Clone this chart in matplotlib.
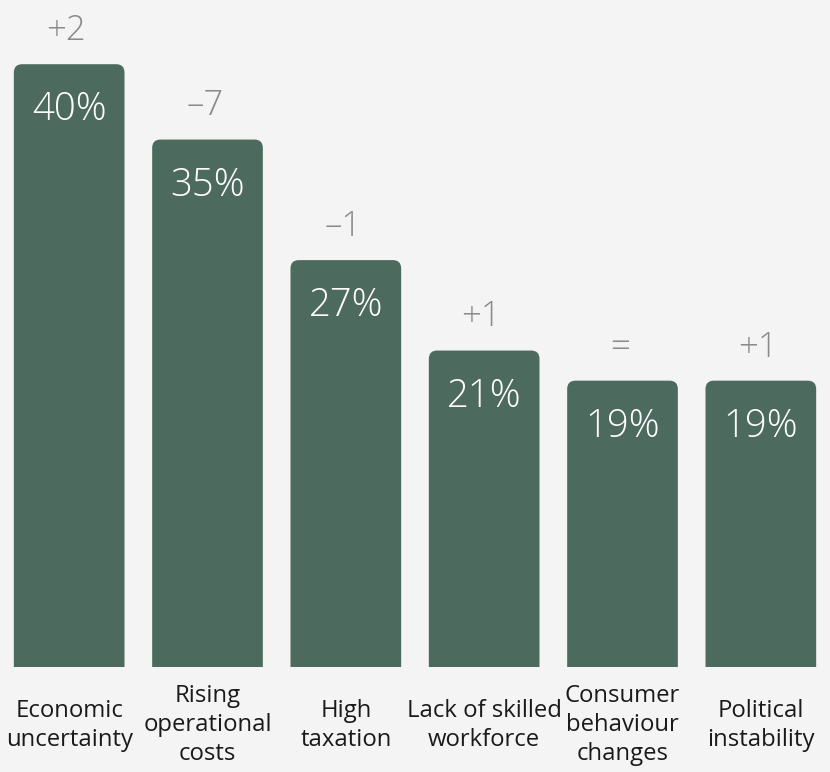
import matplotlib.pyplot as plt
from matplotlib.patches import FancyBboxPatch

categories = ['Economic\nuncertainty', 'Rising\noperational\ncosts', 'High\ntaxation',
              'Lack of skilled\nworkforce', 'Consumer\nbehaviour\nchanges', 'Political\ninstability']
values = [40, 35, 27, 21, 19, 19]
changes = ['+2', '\u20137', '\u20131', '+1', '=', '+1']

bar_color = '#4d6a5f'
bg = '#f4f4f4'
font = ['Open Sans', 'DejaVu Sans']

fig = plt.figure(figsize=(8.3, 7.72), dpi=100)
fig.patch.set_facecolor(bg)
ax = fig.add_axes([0, 1 - 667 / 772, 1, 667 / 772])
ax.set_facecolor(bg)

x = list(range(len(values)))
bars = ax.bar(x, values, width=0.8, color=bar_color)

# swap the plain rectangles for ones with rounded top corners
for b in bars:
    b.set_visible(False)
    p = FancyBboxPatch((b.get_x(), -2), b.get_width(), b.get_height() + 2,
                       boxstyle='round,pad=0,rounding_size=0.06',
                       mutation_aspect=9.2, fc=bar_color, ec='none')
    ax.add_patch(p)

for xi, v, c in zip(x, values, changes):
    ax.annotate(f'{v}%', (xi, v), xytext=(0, -33), textcoords='offset points',
                ha='center', va='center', color='white', fontsize=27.5,
                family=font, fontweight='light')
    ax.annotate(c, (xi, v), xytext=(-2, 24), textcoords='offset points',
                ha='center', va='center', color='#8a8a8a', fontsize=25,
                family=font, fontweight='light')

ax.set_xlim(-0.5, 5.5)
ax.set_ylim(0, 667 / 15.07)
ax.set_xticks(x)
ax.set_xticklabels([])
for s in ax.spines.values():
    s.set_visible(False)
ax.tick_params(length=0, labelleft=False)

for xi, lab in zip(x, categories):
    ax.annotate(lab, (xi, 0), xytext=(0, -42), textcoords='offset points',
                ha='center', va='center', fontsize=17.2, color='#1a1a1a',
                family=font, linespacing=1.28)

fig.savefig('out.png', dpi=100, facecolor=bg)
